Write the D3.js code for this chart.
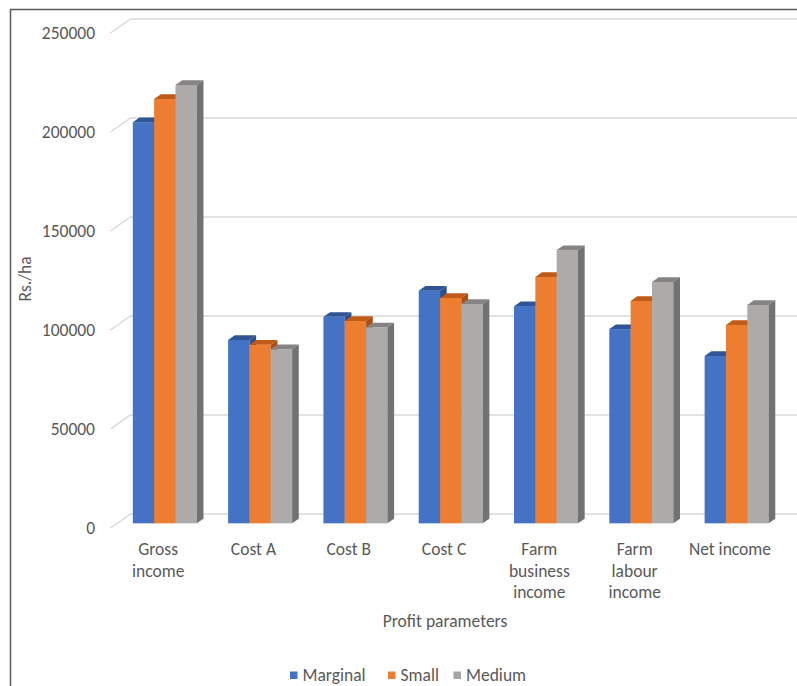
<!DOCTYPE html>
<html>
<head>
<meta charset="utf-8">
<script src="https://cdn.jsdelivr.net/npm/d3@7"></script>
<style>
  body { margin: 0; background: #fff; }
  text { font-family: Carlito, Lato, "Liberation Sans", sans-serif; fill: #595959; }
</style>
</head>
<body>
<div id="chart"></div>
<script>
var categories = ["Gross income", "Cost A", "Cost B", "Cost C", "Farm business income", "Farm labour income", "Net income"];
var categoryLines = [["Gross", "income"], ["Cost A"], ["Cost B"], ["Cost C"], ["Farm", "business", "income"], ["Farm", "labour", "income"], ["Net income"]];
var seriesNames = ["Marginal", "Small", "Medium"];
var marginal = [202600, 92600, 104300, 117500, 109700, 98100, 84500];
var small = [214300, 90200, 102200, 113800, 124400, 112300, 100200];
var medium = [221400, 87900, 99000, 110800, 138000, 121900, 110300];
var yTicks = [0, 50000, 100000, 150000, 200000, 250000];

var seriesValues = [marginal, small, medium];
var frontColors = ["#4472C4", "#ED7D31", "#ADAAAA"];
var topColors = ["#2F5597", "#C05A18", "#858383"];
var sideColors = ["#2E4E8A", "#A94F14", "#737272"];
var legendColors = ["#4472C4", "#ED7D31", "#A5A5A5"];

function drawChart() {
    var svgWidth = 797, svgHeight = 686;
    var svg = d3.select("#chart").append("svg")
        .attr("width", svgWidth)
        .attr("height", svgHeight);

    // outer frame (only left and top edges are visible)
    svg.append("path")
        .attr("d", "M10.5,686 L10.5,9.5 L797,9.5")
        .attr("fill", "none")
        .attr("stroke", "#5a5a5a")
        .attr("stroke-width", 1.5);

    // oblique depth of the floor
    var depthX = 20, depthY = -14;

    var x = d3.scaleBand().domain(categories).range([110.5, 777.6]);
    var xs = d3.scaleBand().domain(seriesNames).range([0, 64]);
    var y = d3.scaleLinear().domain([0, 250000]).range([528, 33]);

    // gridlines: short diagonal on the side wall, then along the back wall
    var grid = svg.append("g");
    yTicks.forEach(function (t) {
        var y0 = y(t);
        grid.append("path")
            .attr("d", "M" + x.range()[0] + "," + y0 +
                " L" + (x.range()[0] + depthX) + "," + (y0 + depthY) +
                " L" + svgWidth + "," + (y0 + depthY))
            .attr("fill", "none")
            .attr("stroke", "#d9d9d9")
            .attr("stroke-width", 1.5);
    });

    // tick labels
    svg.append("g").selectAll("text")
        .data(yTicks)
        .enter().append("text")
        .attr("x", 95)
        .attr("y", function (d) { return y(d); })
        .attr("dy", "0.35em")
        .attr("text-anchor", "end")
        .style("font-size", "17.5px")
        .text(function (d) { return d; });

    // bars sit between 1/3 and 2/3 of the depth
    var f0 = 1 / 3, f1 = 2 / 3;
    var bars = svg.append("g");
    categories.forEach(function (c, i) {
        var groupLeft = x(c) + (x.bandwidth() - xs.range()[1]) / 2;
        seriesNames.forEach(function (s, j) {
            var v = seriesValues[j][i];
            var x0 = groupLeft + xs(s) + depthX * f0;
            var x1 = x0 + xs.bandwidth();
            var yt = y(v) + depthY * f0;
            var yb = y(0) + depthY * f0;
            var ddx = depthX * (f1 - f0), ddy = depthY * (f1 - f0);

            bars.append("rect")
                .attr("x", x0)
                .attr("y", yt)
                .attr("width", xs.bandwidth())
                .attr("height", yb - yt)
                .attr("fill", frontColors[j]);

            bars.append("polygon")
                .attr("points", [[x0, yt], [x1, yt], [x1 + ddx, yt + ddy], [x0 + ddx, yt + ddy]].join(" "))
                .attr("fill", topColors[j]);

            bars.append("polygon")
                .attr("points", [[x1, yt], [x1 + ddx, yt + ddy], [x1 + ddx, yb + ddy], [x1, yb]].join(" "))
                .attr("fill", sideColors[j]);
        });
    });

    // category labels
    var catG = svg.append("g");
    categories.forEach(function (c, i) {
        var t = catG.append("text")
            .attr("x", x(c) + x.bandwidth() / 2)
            .attr("y", 555)
            .attr("text-anchor", "middle")
            .style("font-size", "17.5px");
        categoryLines[i].forEach(function (line, k) {
            t.append("tspan")
                .attr("x", x(c) + x.bandwidth() / 2)
                .attr("dy", k === 0 ? 0 : 21.5)
                .text(line);
        });
    });

    // axis titles
    svg.append("text")
        .attr("x", 445)
        .attr("y", 627)
        .attr("text-anchor", "middle")
        .style("font-size", "17.5px")
        .text("Profit parameters");

    svg.append("text")
        .attr("transform", "translate(31,279) rotate(-90)")
        .attr("text-anchor", "middle")
        .style("font-size", "17.5px")
        .text("Rs./ha");

    // legend
    var legendX = [290, 388, 453.5];
    var legend = svg.append("g");
    seriesNames.forEach(function (s, j) {
        legend.append("rect")
            .attr("x", legendX[j])
            .attr("y", 671.5)
            .attr("width", 7.5)
            .attr("height", 7.5)
            .attr("fill", legendColors[j]);
        legend.append("text")
            .attr("x", legendX[j] + 12.5)
            .attr("y", 675)
            .attr("dy", "0.35em")
            .style("font-size", "17.5px")
            .text(s);
    });
}

drawChart();
</script>
</body>
</html>
